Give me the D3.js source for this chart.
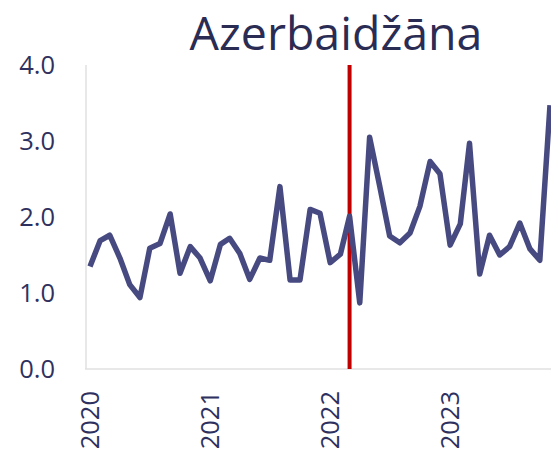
<!DOCTYPE html>
<html>
<head>
<meta charset="utf-8">
<script src="https://cdn.jsdelivr.net/npm/d3@7"></script>
<style>
    body { margin: 0; background: #fff; }
    svg { display: block; font-family: "Open Sans", sans-serif; }
</style>
</head>
<body>
<svg id="chart" width="551" height="456"></svg>
<script>
//variable definition
var CHART_WIDTH = 551;
var CHART_HEIGHT = 456;
var MARGIN = { left: 90, top: 65, bottom: 87, right: 1 };
var TITLE = "Azerbaidžāna";
var START_MONTH = "2020-01";
var MARKER_MONTH = "2022-03"; //red marker line
var Y_TICKS = [0, 1, 2, 3, 4];
var YEAR_LABELS = ["2020", "2021", "2022", "2023"];
// monthly values, Jan 2020 .. Nov 2023
var VALUES = [
    1.35, 1.69, 1.76, 1.46, 1.11, 0.94, 1.59, 1.65, 2.04, 1.26, 1.61, 1.46,
    1.16, 1.64, 1.72, 1.52, 1.18, 1.46, 1.43, 2.40, 1.17, 1.17, 2.10, 2.05,
    1.40, 1.51, 2.01, 0.87, 3.05, 2.40, 1.75, 1.66, 1.79, 2.14, 2.73, 2.57,
    1.63, 1.91, 2.97, 1.25, 1.76, 1.50, 1.61, 1.92, 1.58, 1.43, 3.47
];

var TEXT_COLOR = "#2e3160";
var LINE_COLOR = "#464a80";

function buildData() {
    let parse = d3.timeParse("%Y-%m");
    let start = parse(START_MONTH);
    return VALUES.map((v, i) => ({
        "date": d3.timeMonth.offset(start, i),
        "value": v
    }));
}

function drawChart(data) {
    let svg = d3.select("#chart");
    let parse = d3.timeParse("%Y-%m");

    let xScale = d3.scaleTime()
        .domain(d3.extent(data, d => d.date))
        .range([MARGIN.left, 550]);

    let yScale = d3.scaleLinear()
        .domain([0, 4])
        .range([369, MARGIN.top]);

    // axis lines
    svg.append("line")
        .attr("x1", 86).attr("x2", 86)
        .attr("y1", yScale(4)).attr("y2", yScale(0))
        .attr("stroke", "#e0e0e0").attr("stroke-width", 1.5);
    svg.append("line")
        .attr("x1", 85).attr("x2", CHART_WIDTH)
        .attr("y1", yScale(0)).attr("y2", yScale(0))
        .attr("stroke", "#e0e0e0").attr("stroke-width", 1.5);

    // y labels
    svg.selectAll(".ylab")
        .data(Y_TICKS)
        .enter().append("text")
        .attr("class", "ylab")
        .attr("x", 55)
        .attr("y", d => yScale(d))
        .attr("dy", "0.36em")
        .attr("text-anchor", "end")
        .attr("font-size", 25.5)
        .attr("fill", TEXT_COLOR)
        .text(d => d3.format(".1f")(d));

    // x labels, rotated
    svg.selectAll(".xlab")
        .data(YEAR_LABELS)
        .enter().append("text")
        .attr("class", "xlab")
        .attr("transform", d => `translate(${xScale(parse(d + "-01"))}, 391) rotate(-90)`)
        .attr("dy", "0.36em")
        .attr("text-anchor", "end")
        .attr("font-size", 25.5)
        .attr("fill", TEXT_COLOR)
        .text(d => d);

    // red marker
    let mx = xScale(parse(MARKER_MONTH));
    svg.append("line")
        .attr("x1", mx).attr("x2", mx)
        .attr("y1", yScale(4)).attr("y2", yScale(0))
        .attr("stroke", "#c00000").attr("stroke-width", 4);

    const points = d3.line()
        .x(d => xScale(d.date))
        .y(d => yScale(d.value));

    svg.append("path")
        .datum(data)
        .attr("fill", "none")
        .attr("stroke", LINE_COLOR)
        .attr("stroke-width", 5.5)
        .attr("stroke-linejoin", "round")
        .attr("d", points);

    svg.append("text")
        .attr("x", 336)
        .attr("y", 50)
        .attr("text-anchor", "middle")
        .attr("font-size", 46.5)
        .attr("fill", "#2b2c54")
        .text(TITLE);
}

function main() {
    drawChart(buildData());
}

main();
</script>
</body>
</html>
